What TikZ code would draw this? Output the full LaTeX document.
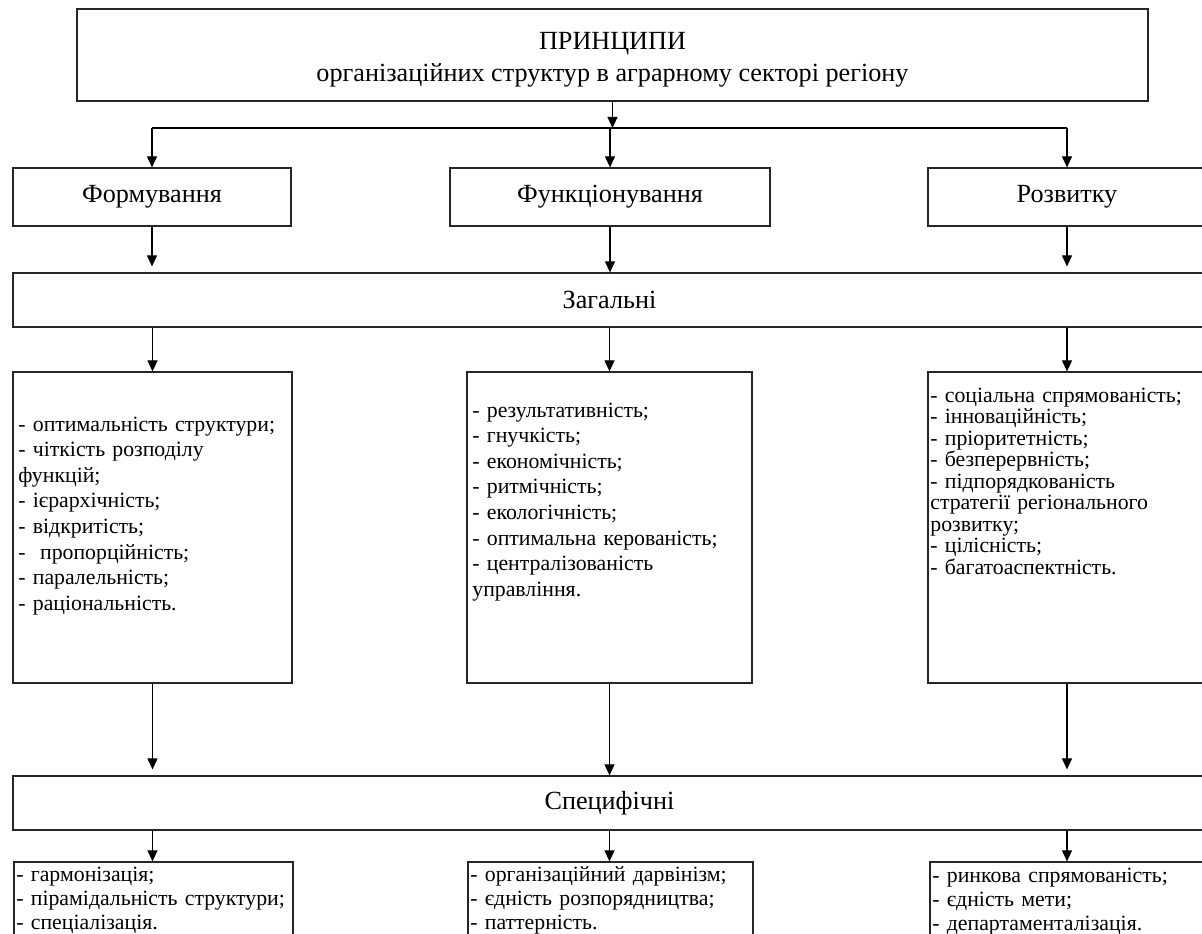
\documentclass[tikz,border=0pt]{standalone}
\usepackage{fontspec}
\setmainfont{Liberation Serif}
\usetikzlibrary{arrows.meta}
\tikzstyle{box} = [rectangle, draw=black!85, line width=0.7pt, inner sep=0pt, align=center, font=\fontsize{14.9}{18}\selectfont]
\tikzstyle{list} = [inner sep=0pt, anchor=base west, text width=6.2cm, align=left, font=\fontsize{12.4}{14.6}\selectfont]
\tikzstyle{arr} = [line width=0.6pt, -{Triangle[length=0.22cm, width=0.2cm]}]

\begin{document}
\begin{tikzpicture}[]
    \useasboundingbox (0,0) rectangle (24.04,-18.68);
    \node[box, minimum width=21.42cm, minimum height=1.84cm] (top) at (12.25,-1.10) {\rule{0pt}{15pt}ПРИНЦИПИ\\організаційних структур в аграрному секторі регіону};

    \coordinate (bus) at (12.25,-2.56);
    \coordinate (busL) at (3.04,-2.56);
    \coordinate (busM) at (12.20,-2.56);
    \coordinate (busR) at (21.34,-2.56);

    \node[box, minimum width=5.56cm, minimum height=1.16cm] (form) at (3.04,-3.94) {Формування};
    \node[box, minimum width=6.40cm, minimum height=1.16cm] (func) at (12.20,-3.94) {Функціонування};
    \node[box, minimum width=5.56cm, minimum height=1.16cm] (rozv) at (21.34,-3.94) {Розвитку};

    \node[box, minimum width=23.86cm, minimum height=1.08cm] (zag) at (12.19,-6.00) {Загальні};

    \node[box, minimum width=5.58cm, minimum height=6.22cm] (gL) at (3.05,-10.55) {};
    \node[box, minimum width=5.70cm, minimum height=6.22cm] (gM) at (12.19,-10.55) {};
    \node[box, minimum width=5.56cm, minimum height=6.22cm] (gR) at (21.34,-10.55) {};
    \node[list] (gLt) at (0.36,-8.62) {- оптимальність структури;\\- чіткість розподілу\\функцій;\\- ієрархічність;\\- відкритість;\\- \ пропорційність;\\- паралельність;\\- раціональність.};
    \node[list] (gMt) at (9.44,-8.34) {- результативність;\\- гнучкість;\\- економічність;\\- ритмічність;\\- екологічність;\\- оптимальна керованість;\\- централізованість\\управління.};
    \node[list, font=\fontsize{12.4}{12.25}\selectfont] (gRt) at (18.60,-8.04) {- соціальна спрямованість;\\- інноваційність;\\- пріоритетність;\\- безперервність;\\- підпорядкованість\\стратегії регіонального\\розвитку;\\- цілісність;\\- багатоаспектність.};

    \node[box, minimum width=23.86cm, minimum height=1.08cm] (spec) at (12.19,-16.06) {Специфічні};

    \node[box, minimum width=5.58cm, minimum height=2.0cm] (sL) at (3.07,-18.24) {};
    \node[box, minimum width=5.70cm, minimum height=2.0cm] (sM) at (12.21,-18.24) {};
    \node[box, minimum width=5.56cm, minimum height=2.0cm] (sR) at (21.38,-18.24) {};
    \node[list, font=\fontsize{12.4}{13.8}\selectfont] (sLt) at (0.32,-17.62) {- гармонізація;\\- пірамідальність структури;\\- спеціалізація.};
    \node[list, font=\fontsize{12.4}{13.8}\selectfont] (sMt) at (9.40,-17.62) {- організаційний дарвінізм;\\- єдність розпорядництва;\\- паттерність.};
    \node[list, font=\fontsize{12.4}{13.8}\selectfont] (sRt) at (18.64,-17.64) {- ринкова спрямованість;\\- єдність мети;\\- департаменталізація.};

    \draw[line width=0.6pt] (busL) -- (busR);
    \path [arr] (top.south) edge (bus);
    \path [arr] (busL) edge (form);
    \path [arr] (busM) edge (func);
    \path [arr] (busR) edge (rozv);

    \path [arr, shorten >=0.12cm] (form) edge (form |- zag.north);
    \path [arr] (func) edge (func |- zag.north);
    \path [arr, shorten >=0.12cm] (rozv) edge (rozv |- zag.north);

    \path [arr] (zag.south -| gL) edge (gL);
    \path [arr] (zag.south -| gM) edge (gM);
    \path [arr] (zag.south -| gR) edge (gR);

    \path [arr, shorten >=0.12cm] (gL) edge (gL |- spec.north);
    \path [arr] (gM) edge (gM |- spec.north);
    \path [arr, shorten >=0.12cm] (gR) edge (gR |- spec.north);

    \path [arr] (spec.south -| gL) edge (gL |- sL.north);
    \path [arr] (spec.south -| gM) edge (gM |- sM.north);
    \path [arr] (spec.south -| gR) edge (gR |- sR.north);

\end{tikzpicture}
\end{document}
